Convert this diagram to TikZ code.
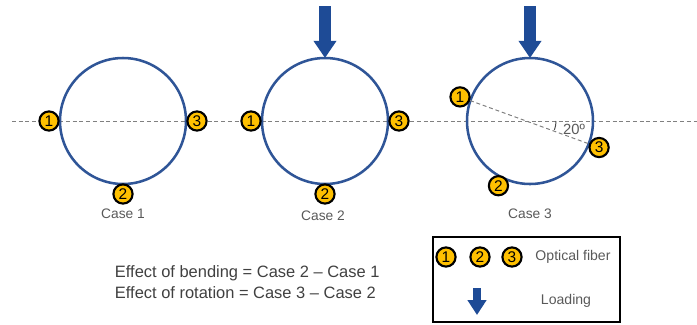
\documentclass[tikz,border=0pt]{standalone}
\usepackage{fontspec}
\setmainfont{Liberation Sans}
\usepackage{tikz}
\usetikzlibrary{arrows.meta, calc, positioning}
\definecolor{ringblue}{RGB}{47,85,151}
\definecolor{loadblue}{RGB}{30,75,150}
\definecolor{fibyellow}{RGB}{255,192,0}
\definecolor{txtgray}{RGB}{89,89,89}
\tikzset{
ring/.style={draw=ringblue, line width=1.8pt}, % the tube cross section
fiber/.style={circle, draw=black, fill=fibyellow, line width=1.5pt, minimum size=0.48cm, inner sep=0pt, font=\fontsize{11}{11}\selectfont}, % numbered fibre marker
caselabel/.style={text=txtgray, font=\fontsize{9.8}{11}\selectfont},
axis/.style={gray, line width=0.7pt, dash pattern=on 2.8pt off 2pt},
load/.style={loadblue, line width=0.3cm, -{Triangle[width=0.55cm, length=0.43cm]}},
smallload/.style={loadblue, line width=0.2cm, -{Triangle[width=0.45cm, length=0.37cm]}},
}

\begin{document}
\begin{tikzpicture}[x=0.025cm, y=-0.025cm]
  \useasboundingbox (0,0) rectangle (697,324);
  % centre line (y axis points down, so angles are mirrored)
  \coordinate (la) at (12,121);
  \coordinate (lb) at (697,121);
  \draw[axis] (la) -- (lb);
  % case 1
  \coordinate (c1) at (123,121);
  \draw[ring] (c1) circle (63);
  \node[fiber] (a1) at ($(c1)+(180:74)$) {1};
  \node[fiber] (a2) at ($(c1)+(90:73)$) {2};
  \node[fiber] (a3) at ($(c1)+(0:74)$) {3};
  \node[caselabel] (l1) at (123,214) {Case 1};
  % case 2
  \coordinate (c2) at (325,121);
  \draw[ring] (c2) circle (63);
  \node[fiber] (b1) at ($(c2)+(180:74)$) {1};
  \node[fiber] (b2) at ($(c2)+(90:73)$) {2};
  \node[fiber] (b3) at ($(c2)+(0:74)$) {3};
  \node[caselabel] (l2) at (323,216) {Case 2};
  \coordinate (p2) at (325,6);
  \coordinate (q2) at (325,58);
  \draw[load] (p2) -- (q2);
  % case 3
  \coordinate (c3) at (530,121);
  \draw[ring] (c3) circle (63);
  \node[fiber] (d1) at ($(c3)+(199:74)$) {1};
  \node[fiber] (d2) at ($(c3)+(116:72)$) {2};
  \node[fiber] (d3) at ($(c3)+(21:74)$) {3};
  \draw[axis] (d1) -- (d3);
  \draw[black!70, line width=0.7pt] ($(c3)+(0:26)$) arc[start angle=0, end angle=20, radius=26];
  \node[caselabel, font=\fontsize{10.5}{11}\selectfont] (ang) at (574,129) {20º};
  \node[caselabel] (l3) at (530,214) {Case 3};
  \coordinate (p3) at (530,6);
  \coordinate (q3) at (530,58);
  \draw[load] (p3) -- (q3);
  % equations
  \node[text=black!75, font=\fontsize{11.7}{14.5}\selectfont, align=left, anchor=north west] (eq) at (110,261) {Effect of bending = Case 2 -- Case 1\\Effect of rotation = Case 3 -- Case 2};
  % legend
  \draw[line width=1.4pt] (433,237) rectangle (620,322);
  \node[fiber] (k1) at (446,257) {1};
  \node[fiber] (k2) at (480,257) {2};
  \node[fiber] (k3) at (512,257) {3};
  \node[caselabel, font=\fontsize{10}{11}\selectfont] (kf) at (573,257) {Optical fiber};
  \coordinate (p4) at (477,288);
  \coordinate (q4) at (477,315);
  \draw[smallload] (p4) -- (q4);
  \node[caselabel, font=\fontsize{10}{11}\selectfont] (kl) at (566,301) {Loading};
\end{tikzpicture}
\end{document}
